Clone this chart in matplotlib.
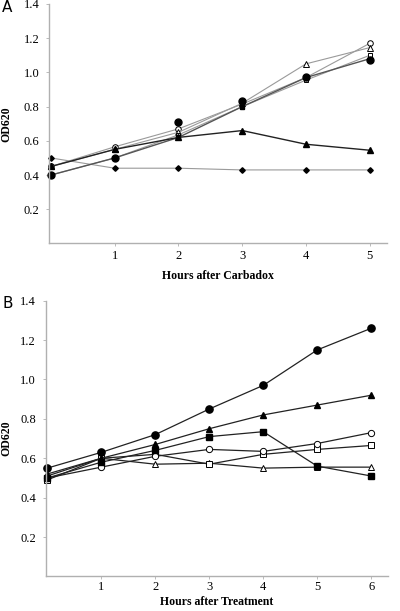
import numpy as np
import matplotlib
matplotlib.use("Agg")
import matplotlib.pyplot as plt

plt.rcParams['font.family'] = ['Liberation Serif', 'DejaVu Serif']

#Panel A - hours after carbadox
hours_a = [0, 1, 2, 3, 4, 5]
a_diamond = [0.50, 0.44, 0.44, 0.43, 0.43, 0.43]
a_tri_filled = [0.45, 0.55, 0.62, 0.66, 0.58, 0.545]
a_circ_filled = [0.40, 0.50, 0.71, 0.835, 0.975, 1.075]
a_sq_filled = [0.40, 0.50, 0.62, 0.80, 0.97, 1.08]
a_circ_open = [0.45, 0.565, 0.67, 0.815, 0.97, 1.17]
a_tri_open = [0.45, 0.55, 0.65, 0.82, 1.05, 1.145]
a_sq_open = [0.40, 0.50, 0.635, 0.80, 0.955, 1.10]

#Panel B - hours after treatment
hours_b = [0, 1, 2, 3, 4, 5, 6]
b_circ_filled = [0.55, 0.63, 0.72, 0.85, 0.97, 1.15, 1.26]
b_tri_filled = [0.52, 0.60, 0.67, 0.75, 0.82, 0.87, 0.92]
b_sq_filled = [0.50, 0.58, 0.64, 0.71, 0.735, 0.56, 0.51]
b_circ_open = [0.50, 0.555, 0.61, 0.645, 0.635, 0.675, 0.73]
b_sq_open = [0.49, 0.60, 0.62, 0.57, 0.62, 0.645, 0.665]
b_tri_open = [0.51, 0.60, 0.57, 0.575, 0.55, 0.555, 0.555]

yticks = [0.2, 0.4, 0.6, 0.8, 1.0, 1.2, 1.4]
ytick_labels = ["0.2", "0.4", "0.6", "0.8", "1.0", "1.2", "1.4"]

fig = plt.figure(figsize=(4, 6.11), dpi=100)
axA = fig.add_axes([0.1225, 0.6015, 0.845, 0.392])
axB = fig.add_axes([0.114, 0.0565, 0.856, 0.4514])

def style_axes(ax, xmax, hours, xlabel, ylab_x, xlab_y, xpad):
	for s in ["top", "right"]:
		ax.spines[s].set_visible(False)
	for s in ["left", "bottom"]:
		ax.spines[s].set_color("#b0b0b0")
		ax.spines[s].set_linewidth(1.0)
	ax.set_ylim(0, 1.4)
	ax.set_xlim(-0.03, xmax)
	ax.set_yticks(yticks)
	ax.set_yticklabels(ytick_labels)
	ax.set_xticks(hours[1:])
	ax.set_xticklabels([str(h) for h in hours[1:]])
	ax.tick_params(axis="y", length=2, width=0.6, color="#b0b0b0", labelsize=9, pad=5)
	ax.tick_params(axis="x", length=2, width=0.6, color="#b0b0b0", labelsize=9, pad=xpad)
	ax.set_xlabel(xlabel, fontsize=8.5, fontweight="bold")
	ax.set_ylabel("OD620", fontsize=8.5, fontweight="bold")
	ax.yaxis.set_label_coords(ylab_x, 0.5)
	ax.xaxis.set_label_coords(0.5, xlab_y)

#Panel A
gray = "#9a9a9a"
axA.plot(hours_a, a_diamond, color=gray, lw=0.8, marker="D", ms=2.8, mfc="black", mec="black", clip_on=False)
axA.plot(hours_a, a_circ_open, color=gray, lw=0.8, marker="o", ms=4, mfc="white", mec="black", mew=0.7, clip_on=False)
axA.plot(hours_a, a_tri_open, color=gray, lw=0.8, marker="^", ms=4, mfc="white", mec="black", mew=0.7, clip_on=False)
axA.plot(hours_a, a_sq_open, color=gray, lw=0.8, marker="s", ms=3.5, mfc="white", mec="black", mew=0.7, clip_on=False)
axA.plot(hours_a, a_sq_filled, color="#555555", lw=1.0, marker="s", ms=3.5, mfc="black", mec="black", clip_on=False)
axA.plot(hours_a, a_circ_filled, color=gray, lw=0.8, marker="o", ms=5, mfc="black", mec="black", linestyle="none", clip_on=False)
axA.plot(hours_a, a_tri_filled, color="#222222", lw=1.0, marker="^", ms=4, mfc="black", mec="black", clip_on=False)
style_axes(axA, 5.27, hours_a, "Hours after Carbadox", -0.108, -0.111, 3)

#Panel B
dark = "#222222"
axB.plot(hours_b, b_tri_open, color=dark, lw=0.9, marker="^", ms=4.5, mfc="white", mec="black", mew=0.7, clip_on=False)
axB.plot(hours_b, b_sq_open, color=dark, lw=0.9, marker="s", ms=4, mfc="white", mec="black", mew=0.7, clip_on=False)
axB.plot(hours_b, b_circ_open, color=dark, lw=0.9, marker="o", ms=4.5, mfc="white", mec="black", mew=0.7, clip_on=False)
axB.plot(hours_b, b_sq_filled, color=dark, lw=0.9, marker="s", ms=4, mfc="black", mec="black", clip_on=False)
axB.plot(hours_b, b_tri_filled, color=dark, lw=0.9, marker="^", ms=4.5, mfc="black", mec="black", clip_on=False)
axB.plot(hours_b, b_circ_filled, color=dark, lw=0.9, marker="o", ms=5.2, mfc="black", mec="black", clip_on=False)
style_axes(axB, 6.31, hours_b, "Hours after Treatment", -0.098, -0.07, 1)

fig.text(0.005, 0.9885, "A", fontsize=11, family="DejaVu Sans", va="center", ha="left")
fig.text(0.005, 0.5025, "B", fontsize=11, family="DejaVu Sans", va="center", ha="left")

fig.savefig("out.png", dpi=100)
